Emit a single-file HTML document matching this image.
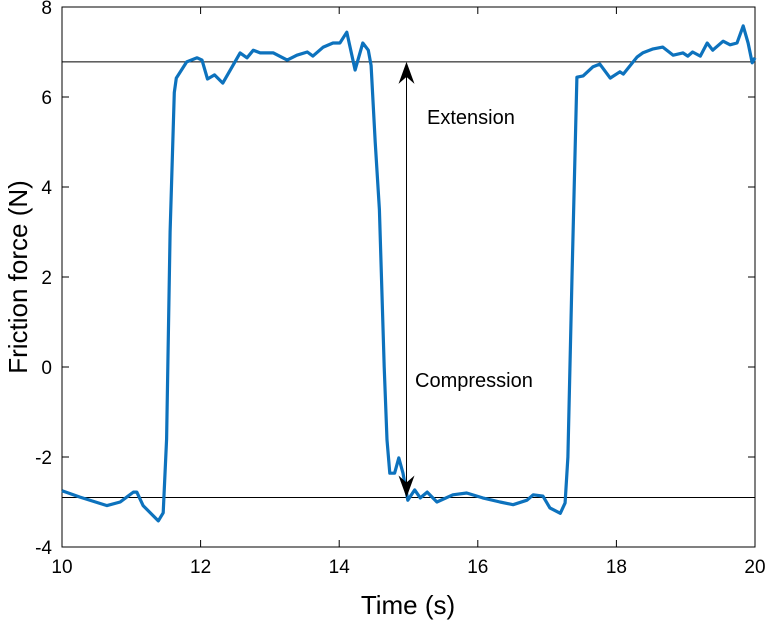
<!DOCTYPE html>
<html><head><meta charset="utf-8"><style>
body{margin:0;background:#fff;}
svg text{font-family:"Liberation Sans",Arial,sans-serif;fill:#000;}
</style></head><body>
<svg id="chart" width="765" height="625">
<g id="grid"></g>
<path id="series" fill="none" stroke="#0d72bd" stroke-width="3.2" stroke-linejoin="round"></path>
<g id="ann"></g>
</svg>
<script>
const times=[10.0,10.26,10.65,10.84,11.03,11.08,11.17,11.39,11.46,11.51,11.56,11.62,11.65,11.8,11.95,12.02,12.1,12.2,12.32,12.57,12.67,12.76,12.86,13.05,13.25,13.39,13.54,13.62,13.77,13.91,14.01,14.11,14.23,14.34,14.42,14.46,14.52,14.58,14.65,14.69,14.73,14.8,14.86,14.92,14.99,15.09,15.17,15.27,15.41,15.64,15.84,16.07,16.32,16.51,16.71,16.8,16.94,17.04,17.19,17.26,17.3,17.36,17.43,17.52,17.66,17.76,17.91,18.05,18.1,18.3,18.38,18.53,18.67,18.82,18.96,19.03,19.1,19.21,19.31,19.39,19.54,19.64,19.74,19.83,19.9,19.96,20.0];
const forces=[-2.75,-2.89,-3.08,-3.0,-2.78,-2.78,-3.08,-3.42,-3.24,-1.6,3.0,6.1,6.42,6.78,6.87,6.82,6.4,6.49,6.31,6.98,6.87,7.04,6.98,6.98,6.82,6.93,7.0,6.91,7.11,7.2,7.2,7.44,6.6,7.2,7.04,6.7,5.0,3.5,0.0,-1.62,-2.36,-2.36,-2.02,-2.36,-2.96,-2.73,-2.91,-2.78,-3.0,-2.84,-2.8,-2.91,-3.0,-3.06,-2.96,-2.84,-2.87,-3.13,-3.25,-3.02,-2.0,2.0,6.44,6.47,6.67,6.73,6.42,6.56,6.51,6.89,6.98,7.07,7.11,6.93,6.98,6.91,7.0,6.91,7.2,7.04,7.24,7.16,7.2,7.58,7.2,6.76,6.87];
const xTicks=[10,12,14,16,18,20];
const yTicks=[-4,-2,0,2,4,6,8];
const refLevels=[6.78,-2.9];
const X0=62,X1=755,Y0=547,Y1=7;
const sx=t=>X0+(t-10)/10*(X1-X0);
const sy=v=>Y0-(v+4)/12*(Y0-Y1);
const NS='http://www.w3.org/2000/svg';
const g=document.getElementById('grid');
function mk(tag,attrs,parent,text){const e=document.createElementNS(NS,tag);for(const k in attrs)e.setAttribute(k,attrs[k]);if(text!==undefined)e.textContent=text;parent.appendChild(e);return e;}
const frame=mk('rect',{x:X0,y:Y1,width:X1-X0,height:Y0-Y1,fill:'none',stroke:'#000','stroke-width':1},g);


xTicks.forEach(t=>{
 const x=sx(t);
 mk('line',{x1:x,x2:x,y1:Y0,y2:Y0-7,stroke:'#000'},g);
 mk('line',{x1:x,x2:x,y1:Y1,y2:Y1+7,stroke:'#000'},g);
 const l=mk('text',{x:x,y:Y0+26,'text-anchor':'middle','font-size':19},g,String(t));
 
 
});
yTicks.forEach(v=>{
 const y=sy(v);
 mk('line',{x1:X0,x2:X0+7,y1:y,y2:y,stroke:'#000'},g);
 mk('line',{x1:X1,x2:X1-7,y1:y,y2:y,stroke:'#000'},g);
 const l=mk('text',{x:X0-10,y:y+7,'text-anchor':'end','font-size':19},g,String(v));
 
 
});
refLevels.forEach(v=>{
 const ln=mk('line',{x1:X0,x2:X1,y1:sy(v),y2:sy(v),stroke:'#000','stroke-width':1},g);
 
 
});
let d='';times.forEach((t,i)=>{d+=(i?'L':'M')+sx(t).toFixed(1)+','+sy(forces[i]).toFixed(1);});
document.getElementById('series').setAttribute('d',d);
const a=document.getElementById('ann');
const ax=sx(15)-2,ya=sy(refLevels[0]),yb=sy(refLevels[1]);
const sh=mk('line',{x1:ax,x2:ax,y1:ya+10,y2:yb-10,stroke:'#000','stroke-width':1},a);


mk('path',{d:`M${ax},${ya} L${ax-8},${ya+22} L${ax},${ya+15} L${ax+8},${ya+22}Z`,fill:'#000'},a);
mk('path',{d:`M${ax},${yb} L${ax-8},${yb-22} L${ax},${yb-15} L${ax+8},${yb-22}Z`,fill:'#000'},a);
const e1=mk('text',{x:427,y:124,'font-size':20},a,'Extension');


const e2=mk('text',{x:415,y:387,'font-size':20},a,'Compression');


const xl=mk('text',{x:408,y:614,'text-anchor':'middle','font-size':26},a,'Time (s)');


const yl=mk('text',{x:0,y:0,'text-anchor':'middle','font-size':26,transform:'translate(27,277) rotate(-90)'},a,'Friction force (N)');


</script>
</body></html>
